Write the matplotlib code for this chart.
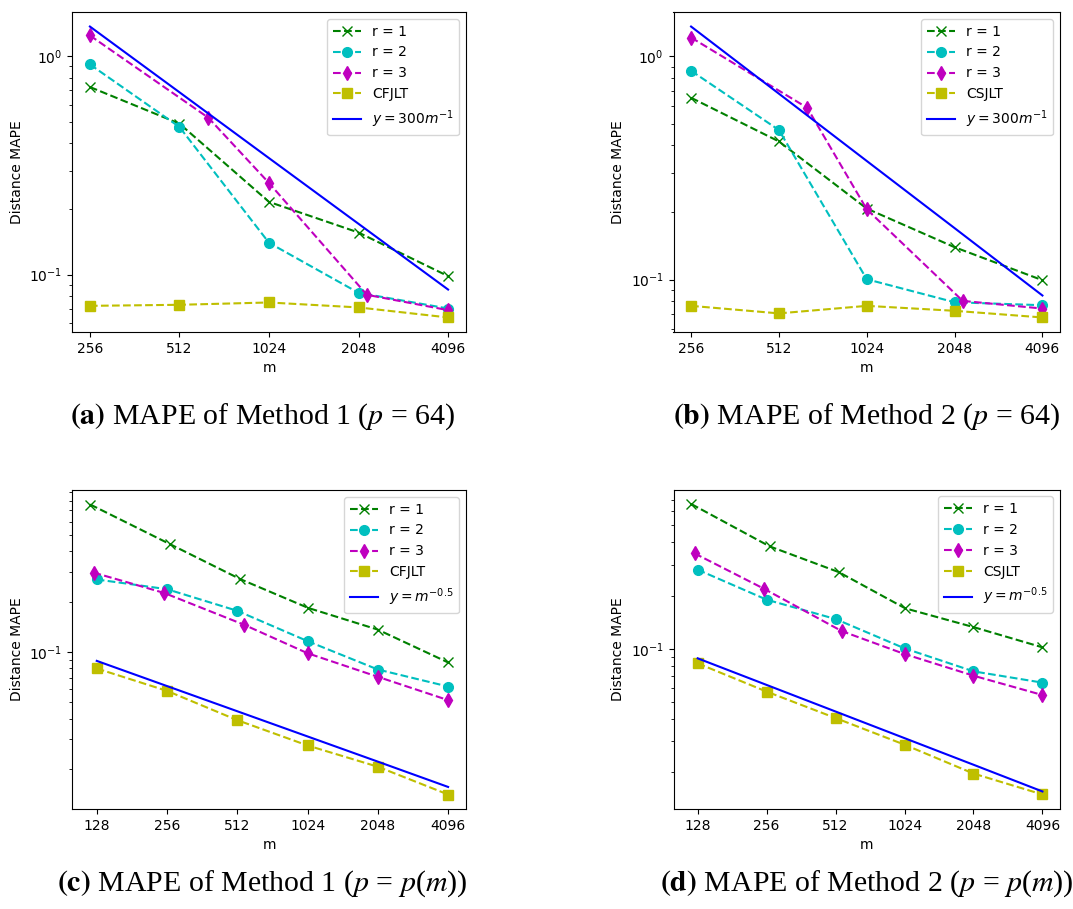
import matplotlib
matplotlib.use('Agg')
import matplotlib.pyplot as plt

# ---------------- data ----------------
# Panels (a) and (b): p = 64
m_ab = [256, 512, 1024, 2048, 4096]
m_ab_r3 = [256, 640, 1024, 2184, 4096]
ticks_ab = [256, 512, 1024, 2048, 4096]

a_r1 = [0.724, 0.492, 0.2155, 0.156, 0.0985]
a_r2 = [0.919, 0.475, 0.140, 0.0826, 0.070]
a_r3 = [1.247, 0.524, 0.263, 0.0809, 0.0688]
a_jlt = [0.072, 0.0728, 0.0746, 0.0708, 0.0637]
a_ref = [1.37, 0.685, 0.342, 0.171, 0.0855]

b_r1 = [0.653, 0.416, 0.208, 0.1396, 0.0993]
b_r2 = [0.863, 0.468, 0.1003, 0.0791, 0.0767]
b_r3 = [1.216, 0.589, 0.2065, 0.0802, 0.0741]
b_jlt = [0.0762, 0.0705, 0.0762, 0.0724, 0.0676]
b_ref = [1.362, 0.681, 0.340, 0.170, 0.0848]

# Panels (c) and (d): p = p(m)
m_cd = [128, 256, 512, 1024, 2048, 4096]
m_cd_r1 = [120, 264, 528, 1032, 2044, 4096]
m_cd_r3 = [124, 249, 545, 1024, 2048, 4096]
ticks_cd = [128, 256, 512, 1024, 2048, 4096]

c_r1 = [0.760, 0.440, 0.272, 0.183, 0.136, 0.0865]
c_r2 = [0.271, 0.237, 0.176, 0.116, 0.0785, 0.0621]
c_r3 = [0.298, 0.225, 0.1457, 0.0982, 0.071, 0.0515]
c_jlt = [0.0796, 0.0585, 0.0391, 0.0276, 0.0206, 0.01406]
c_ref = [0.0884, 0.0625, 0.0442, 0.03125, 0.0221, 0.0156]

d_r1 = [0.660, 0.380, 0.272, 0.1695, 0.1329, 0.102]
d_r2 = [0.2806, 0.1898, 0.1475, 0.1007, 0.0746, 0.0644]
d_r3 = [0.347, 0.219, 0.126, 0.0935, 0.0705, 0.0548]
d_jlt = [0.0828, 0.0573, 0.0406, 0.0287, 0.0197, 0.0150]
d_ref = [0.0884, 0.0625, 0.0442, 0.03125, 0.0221, 0.0156]

captions = [
    r"$\mathbf{(a)}$ MAPE of Method 1 ($p$ = 64)",
    r"$\mathbf{(b)}$ MAPE of Method 2 ($p$ = 64)",
    r"$\mathbf{(c)}$ MAPE of Method 1 ($p$ = $p$($m$))",
    r"$\mathbf{(d)}$ MAPE of Method 2 ($p$ = $p$($m$))",
]

# ---------------- figure ----------------
W, H = 1073, 909
fig = plt.figure(figsize=(W / 100, H / 100), dpi=100)


def px_axes(left, top, right, bottom):
    return fig.add_axes([left / W, 1 - bottom / H, (right - left) / W, (bottom - top) / H])


def panel(ax, m, m_r1, m_r3, r1, r2, r3, jlt, jlt_name, m_ref, ref, ref_label, ticks):
    ms = 7
    ax.plot(m_r1, r1, 'g--', marker='x', ms=ms, label='r = 1')
    ax.plot(m, r2, 'c--', marker='o', ms=ms, label='r = 2')
    ax.plot(m_r3, r3, 'm--', marker='d', ms=ms, label='r = 3')
    ax.plot(m, jlt, 'y--', marker='s', ms=ms, label=jlt_name)
    ax.plot(m_ref, ref, 'b-', label=ref_label)
    ax.set_xscale('log', base=2)
    ax.set_yscale('log')
    ax.set_xticks(ticks)
    ax.set_xticklabels([str(t) for t in ticks])
    ax.set_xlabel('m')
    ax.set_ylabel('Distance MAPE')
    ax.legend(loc='upper right')


axa = px_axes(72, 12, 466, 332)
panel(axa, m_ab, m_ab, m_ab_r3, a_r1, a_r2, a_r3, a_jlt, 'CFJLT', m_ab, a_ref,
      r'$y = 300m^{-1}$', ticks_ab)
axb = px_axes(673.5, 12, 1060, 332)
panel(axb, m_ab, m_ab, m_ab_r3, b_r1, b_r2, b_r3, b_jlt, 'CSJLT', m_ab, b_ref,
      r'$y = 300m^{-1}$', ticks_ab)
axc = px_axes(72.3, 490, 466, 809)
panel(axc, m_cd, m_cd_r1, m_cd_r3, c_r1, c_r2, c_r3, c_jlt, 'CFJLT', m_cd, c_ref,
      r'$y = m^{-0.5}$', ticks_cd)
axd = px_axes(673.7, 489.5, 1060, 809)
panel(axd, m_cd, m_cd_r1, m_cd_r3, d_r1, d_r2, d_r3, d_jlt, 'CSJLT', m_cd, d_ref,
      r'$y = m^{-0.5}$', ticks_cd)

cap_pos = [(263, 417), (867, 417), (262, 884), (867, 884)]
for (cx, cy), txt in zip(cap_pos, captions):
    fig.text(cx / W, 1 - cy / H, txt, ha='center', va='center', fontsize=21.5,
             family='Liberation Serif', math_fontfamily='stix')

fig.savefig('out.png', dpi=100)
